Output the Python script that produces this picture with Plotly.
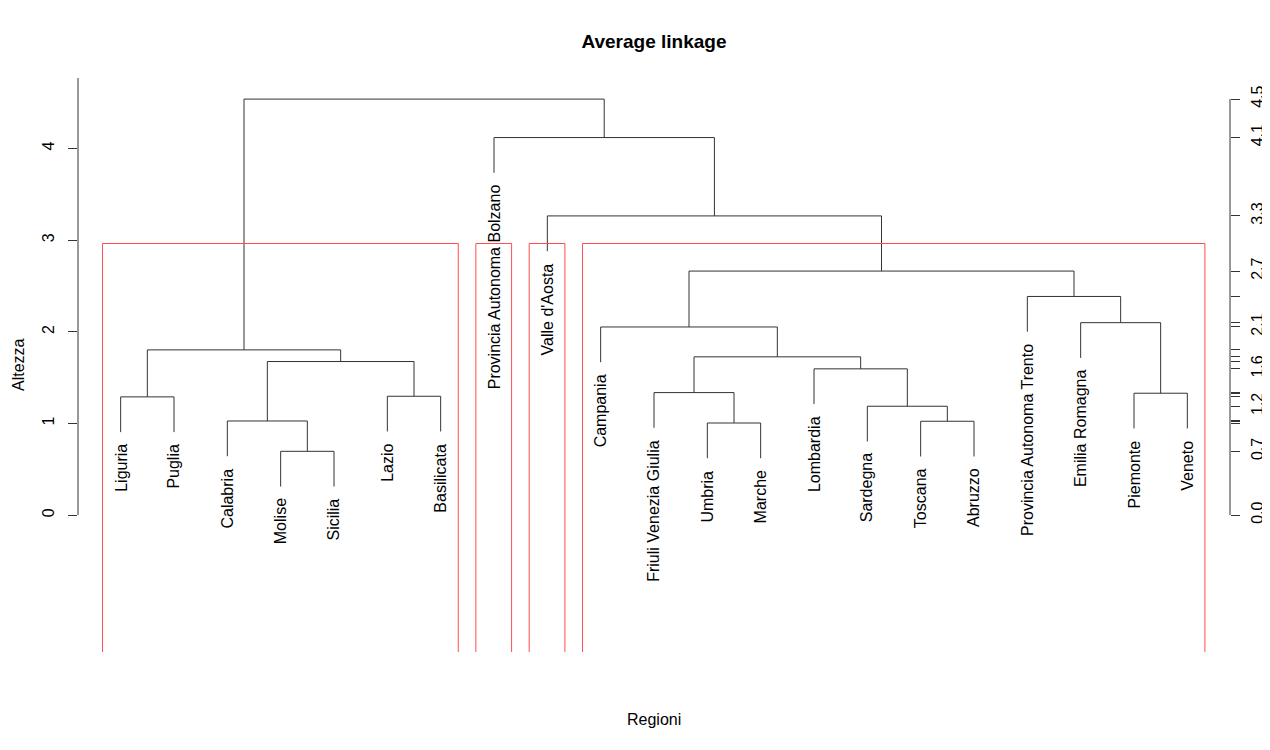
import plotly.graph_objects as go

# ---- data ----
leaf_labels = ["Liguria", "Puglia", "Calabria", "Molise", "Sicilia", "Lazio", "Basilicata",
               "Provincia Autonoma Bolzano", "Valle d'Aosta", "Campania",
               "Friuli Venezia Giulia", "Umbria", "Marche", "Lombardia", "Sardegna",
               "Toscana", "Abruzzo", "Provincia Autonoma Trento", "Emilia Romagna",
               "Piemonte", "Veneto"]

# R-style merge matrix: negative = leaf (1-based position), positive = earlier merge step
merge_left = [-4, -12, -16, -3, -15, -1, -6, -20, -11, -14, 4, 9, 6, -10, -19, -18, 14, -9, -8, 13]
merge_right = [-5, -13, -17, 1, 3, -2, -7, -21, 2, 5, 7, 10, 11, 12, 8, 15, 16, 17, 18, 19]
merge_height = [0.696, 1.005, 1.024, 1.027, 1.188, 1.290, 1.297, 1.330, 1.337, 1.596,
                1.676, 1.727, 1.803, 2.053, 2.100, 2.386, 2.663, 3.265, 4.120, 4.540]

k_clusters = 4
cluster_sizes = [7, 1, 1, 12]
left_ticks = [0, 1, 2, 3, 4]

# ---- geometry ----
n = len(leaf_labels)
hang = 0.1 * (max(merge_height) - min(merge_height))
y_lo, y_hi = -1.494, 4.77

node_x = {}
xs, ys = [], []
leaf_bottom = {}

def child_pos(c, h):
    if c < 0:
        x = float(-c)
        leaf_bottom[-c] = h - hang
        return x, h - hang
    return node_x[c], merge_height[c - 1]

for i, (a, b, h) in enumerate(zip(merge_left, merge_right, merge_height), start=1):
    xa, ya = child_pos(a, h)
    xb, yb = child_pos(b, h)
    xs += [xa, xa, xb, xb, None]
    ys += [ya, h, h, yb, None]
    node_x[i] = (xa + xb) / 2

fig = go.Figure()
fig.add_trace(go.Scatter(x=xs, y=ys, mode="lines", line=dict(color="#333333", width=1),
                         hoverinfo="skip", showlegend=False))

# rectangles (rect.hclust)
hs = sorted(merge_height, reverse=True)
rect_top = (hs[k_clusters - 2] + hs[k_clusters - 1]) / 2
start = 0
rx, ry = [], []
for s in cluster_sizes:
    x0 = start + 0.66
    x1 = start + s + 0.33
    rx += [x0, x0, x1, x1, None]
    ry += [y_lo, rect_top, rect_top, y_lo, None]
    start += s
fig.add_trace(go.Scatter(x=rx, y=ry, mode="lines", line=dict(color="#ff4d4d", width=1),
                         hoverinfo="skip", showlegend=False))

font_family = "Liberation Sans, Arial, Helvetica, sans-serif"

# leaf labels
for i, lab in enumerate(leaf_labels, start=1):
    fig.add_annotation(x=i, y=leaf_bottom[i], xref="x", yref="y", text=lab,
                       textangle=-90, xanchor="center", yanchor="top", yshift=-10,
                       showarrow=False, font=dict(family=font_family, size=16, color="black"))

# right axis ticks: all merge heights, labels thinned like R does
right_vals = [0.0] + merge_height
right_text = []
last = None
for v in right_vals:
    if last is None or v - last > 0.35:
        right_text.append(f"{v:.1f}")
        last = v
    else:
        right_text.append("")

# axis lines
fig.add_shape(type="line", xref="paper", yref="y", x0=0, x1=0, y0=0, y1=y_hi,
              line=dict(color="#333333", width=1))
fig.add_shape(type="line", xref="paper", yref="y", x0=1, x1=1, y0=0, y1=max(merge_height),
              line=dict(color="#333333", width=1))

# dummy trace for y2
fig.add_trace(go.Scatter(x=[None], y=[None], yaxis="y2", showlegend=False))

# the page body adds an 8px offset; the figure is sized to fill the rest
W, H = 1262, 742
ML, MT, PW, PH = 70, 70, 1152, 574

fig.update_layout(
    width=W, height=H,
    margin=dict(l=ML, r=W - ML - PW, t=MT, b=H - MT - PH, autoexpand=False),
    paper_bgcolor="white", plot_bgcolor="white",
    font=dict(family=font_family, size=16, color="black"),
    title=dict(text="<b>Average linkage</b>", x=(ML + PW / 2) / W, xanchor="center",
               y=1 - 33 / H, yanchor="middle",
               font=dict(family=font_family, size=19, color="black")),
    xaxis=dict(range=[0.2, 21.8], visible=False, fixedrange=True, automargin=False),
    yaxis=dict(range=[y_lo, y_hi], tickvals=left_ticks, ticktext=[str(t) for t in left_ticks],
               ticks="outside", ticklen=9, tickcolor="#333333", tickwidth=1,
               showline=False, showgrid=False, zeroline=False, tickangle=-90,
               ticklabelstandoff=8, tickfont=dict(size=16), automargin=False),
    yaxis2=dict(range=[y_lo, y_hi], overlaying="y", side="right", anchor="x",
                tickvals=right_vals, ticktext=right_text, ticks="outside", ticklen=9,
                tickcolor="#333333", tickwidth=1, showline=False, showgrid=False,
                zeroline=False, tickangle=-90, ticklabelstandoff=4, tickfont=dict(size=16),
                automargin=False),
    showlegend=False,
)

fig.add_annotation(text="Altezza", xref="paper", yref="paper",
                   x=(10 - ML) / PW, y=0.5, textangle=-90, showarrow=False,
                   xanchor="center", yanchor="middle", font=dict(size=16))
fig.add_annotation(text="Regioni", xref="paper", yref="paper",
                   x=0.5, y=-67 / PH, showarrow=False,
                   xanchor="center", yanchor="middle", font=dict(size=16))

fig.write_html("out.html")
